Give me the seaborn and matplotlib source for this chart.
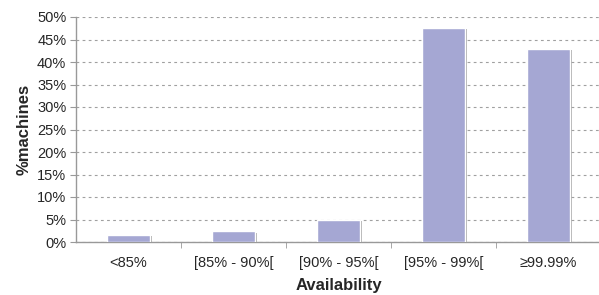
import matplotlib
matplotlib.use("Agg")
import matplotlib.pyplot as plt
import matplotlib.patheffects as pe
from matplotlib.ticker import FuncFormatter, FixedLocator
import seaborn as sns
import pandas as pd

categories = ["<85%", "[85% - 90%[", "[90% - 95%[", "[95% - 99%[", "\u226599.99%"]
pct_machines = [1.6, 2.4, 5.0, 47.6, 43.0]

df = pd.DataFrame({"Availability": categories, "pct": pct_machines})

sns.set_style("white")
plt.rcParams["font.family"] = ["Liberation Sans", "DejaVu Sans"]

fig = plt.figure(figsize=(5.99, 2.95), dpi=100)
ax = fig.add_axes([76 / 599, 1 - 242 / 295, 525 / 599, 225 / 295])

sns.barplot(data=df, x="Availability", y="pct", color="#a5a7d3",
            saturation=1, width=0.41, ax=ax, zorder=3)
for p in ax.patches:
    p.set_path_effects([pe.SimplePatchShadow(offset=(1.5, -1), shadow_rgbFace="#8c8c8c", alpha=0.7),
                        pe.Normal()])

ax.set_ylim(0, 50)
ax.set_xlim(-0.5, 4.5)
ax.set_yticks(range(0, 51, 5))
ax.yaxis.set_major_formatter(FuncFormatter(lambda v, _: f"{v:.0f}%"))
ax.grid(axis="y", color="#a0a0a0", linestyle=(0, (2.5, 3)), linewidth=0.8, zorder=0)
ax.set_axisbelow(True)

ax.xaxis.set_minor_locator(FixedLocator([0.5, 1.5, 2.5, 3.5]))
ax.tick_params(axis="x", which="major", length=0, labelsize=10.5, pad=10)
ax.tick_params(axis="x", which="minor", length=4, color="#999999", bottom=True)
ax.tick_params(axis="y", length=4, color="#999999", left=True, labelsize=10.5, pad=3)

for s in ["top", "right"]:
    ax.spines[s].set_visible(False)
for s in ["left", "bottom"]:
    ax.spines[s].set_color("#999999")
    ax.spines[s].set_linewidth(1.0)

ax.set_xlabel("Availability", fontsize=12, fontweight="bold", labelpad=6)
ax.set_ylabel("%machines", fontsize=12, fontweight="bold", labelpad=4)

fig.savefig("out.png", dpi=100)
